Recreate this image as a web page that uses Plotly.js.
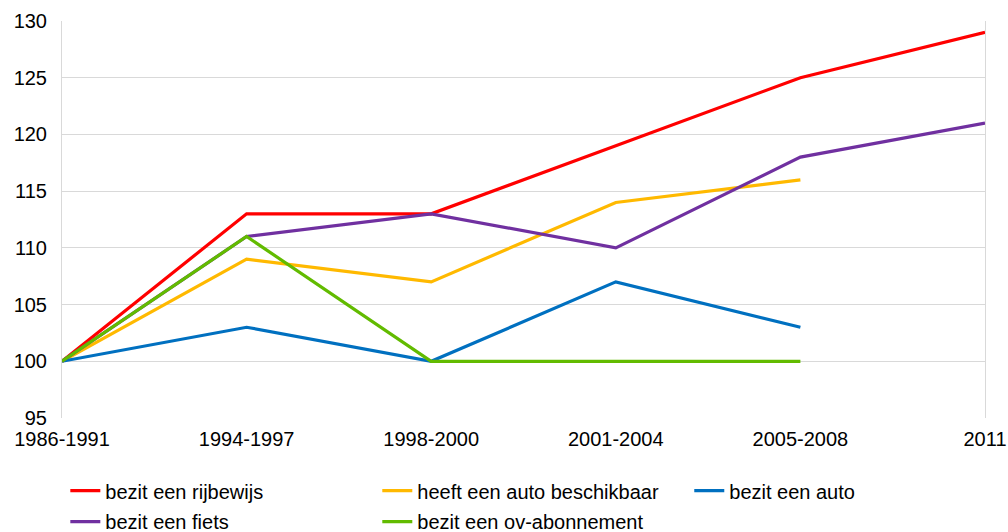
<!DOCTYPE html>
<html>
<head>
<meta charset="utf-8">
<script src="https://cdn.plot.ly/plotly-3.0.1.min.js"></script>
<style>html,body{margin:0;padding:0;background:#fff;}#chart{width:1008px;height:532px;}</style>
</head>
<body>
<div id="chart"></div>
<script>
const categories = ["1986-1991", "1994-1997", "1998-2000", "2001-2004", "2005-2008", "2011"];
const rijbewijs = [100, 113, 113, 119, 125, 129];
const autoBeschikbaar = [100, 109, 107, 114, 116, null];
const auto = [100, 103, 100, 107, 103, null];
const fiets = [100, 111, 113, 110, 118, 121];
const ovAbonnement = [100, 111, 100, 100, 100, null];
const seriesNames = ["bezit een rijbewijs", "heeft een auto beschikbaar", "bezit een auto", "bezit een fiets", "bezit een ov-abonnement"];
const seriesColors = ["#FF0000", "#FFB900", "#0070C0", "#7030A0", "#62BB00"];
const seriesLegends = ["legend", "legend2", "legend3", "legend4", "legend5"];
const seriesValues = [rijbewijs, autoBeschikbaar, auto, fiets, ovAbonnement];

const traces = seriesValues.map((vals, i) => ({
  x: categories,
  y: vals,
  type: "scatter",
  mode: "lines",
  name: seriesNames[i],
  legend: seriesLegends[i],
  line: {color: seriesColors[i], width: 3.2},
  connectgaps: false
}));

const legendBase = {
  orientation: "h",
  xanchor: "left",
  yanchor: "middle",
  yref: "container",
  itemwidth: 30,
  font: {size: 20},
  bgcolor: "rgba(0,0,0,0)"
};
const colX = [0.0036, 0.3416, 0.6796];
const rowY = [0.0776, 0.0194];

const layout = {
  width: 1008,
  height: 532,
  margin: {l: 62, r: 23, t: 21, b: 114},
  paper_bgcolor: "#fff",
  plot_bgcolor: "#fff",
  font: {family: "Liberation Sans, Arial, sans-serif", color: "#000", size: 20},
  showlegend: true,
  xaxis: {
    type: "category",
    range: [0, 5],
    showgrid: false,
    zeroline: false,
    showline: false,
    ticks: "",
    tickfont: {size: 20},
    ticklabelstandoff: 7,
    automargin: false
  },
  yaxis: {
    range: [95, 130],
    dtick: 5,
    tick0: 95,
    showgrid: true,
    gridcolor: "#D9D9D9",
    gridwidth: 1,
    zeroline: false,
    showline: true,
    mirror: true,
    linecolor: "#D9D9D9",
    linewidth: 1,
    ticks: "",
    tickfont: {size: 20},
    ticklabelstandoff: 10,
    automargin: false
  },
  legend: Object.assign({}, legendBase, {x: colX[0], y: rowY[0]}),
  legend2: Object.assign({}, legendBase, {x: colX[1], y: rowY[0]}),
  legend3: Object.assign({}, legendBase, {x: colX[2], y: rowY[0]}),
  legend4: Object.assign({}, legendBase, {x: colX[0], y: rowY[1]}),
  legend5: Object.assign({}, legendBase, {x: colX[1], y: rowY[1]})
};

Plotly.newPlot("chart", traces, layout, {displayModeBar: false, staticPlot: true});
</script>
</body>
</html>
